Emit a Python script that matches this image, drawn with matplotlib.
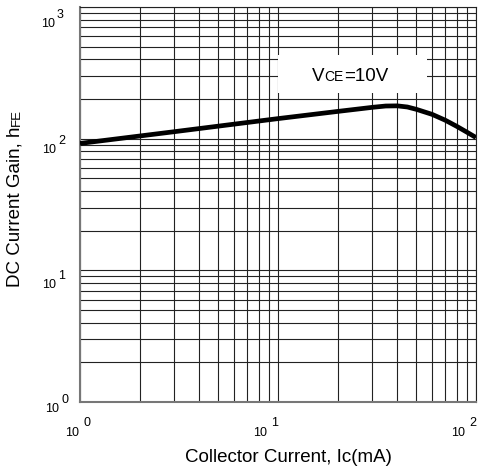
import matplotlib
matplotlib.use('Agg')
import matplotlib.pyplot as plt
from matplotlib.transforms import offset_copy, IdentityTransform
from matplotlib.patches import Rectangle

plt.rcParams['font.family'] = ['Liberation Sans', 'DejaVu Sans']

# ---- data ----
ic_ma = [1, 3, 10, 20, 30, 35, 40, 45, 50, 60, 70, 80, 90, 100]
hfe = [92, 113, 142, 161, 173, 177, 177.5, 174, 167, 153, 138, 124, 112, 102]

x_ticks = [1, 10, 100]
x_exps = ['0', '1', '2']
y_ticks = [1, 10, 100, 1000]
y_exps = ['0', '1', '2', '3']

xlabel_main = 'Collector Current, Ic(mA)'
ylabel_parts = ['DC Current Gain, h', 'FE']
note_parts = ['V', 'CE', '=10V']

W, H = 478, 474
fig = plt.figure(figsize=(W / 100, H / 100), dpi=100)
ax = fig.add_axes([80 / W, 72 / H, 396 / W, 395 / H])
ax.set_xscale('log')
ax.set_yscale('log')
ax.set_xlim(1, 100)
ax.set_ylim(1, 1000)
ax.grid(True, which='both', color='#222222', lw=0.8)
ax.tick_params(which='both', length=0, labelbottom=False, labelleft=False)
for s in ['left', 'bottom']:
    ax.spines[s].set_color('#777777')
    ax.spines[s].set_linewidth(1.5)
for s in ['top', 'right']:
    ax.spines[s].set_color('#222222')
    ax.spines[s].set_linewidth(0.8)

# white note box
ax.add_patch(Rectangle((10, 222), 46.5, 210, facecolor='white', edgecolor='none', zorder=3))

ax.plot(ic_ma, hfe, color='black', lw=3.4, solid_joinstyle='round',
        solid_capstyle='butt', zorder=5)

renderer = fig.canvas.get_renderer()
ident = IdentityTransform()


def chain(x, y, pieces, rotation=0):
    """Place text pieces in display pixel coords (origin bottom-left), on a common baseline."""
    off = 0.0
    for s, size, rise, gap in pieces:
        off += gap
        if rotation == 0:
            tr = offset_copy(ident, fig=fig, x=off, y=rise, units='dots')
        else:
            tr = offset_copy(ident, fig=fig, x=-rise, y=off, units='dots')
        t = fig.text(x, y, s, fontsize=size, ha='left', va='baseline',
                     rotation=rotation, rotation_mode='anchor', transform=tr)
        bb = t.get_window_extent(renderer)
        off += bb.width if rotation == 0 else bb.height


# x tick labels
x_dx = [-15, -25, -25]
for v, e, dx in zip(x_ticks, x_exps, x_dx):
    px, _ = ax.transData.transform((v, 1))
    chain(px + dx, H - 436, [('10', 9, 0, 0), (e, 9, 10, 4)])

# y tick labels
y_dy = [10, 18, 14, 20]
y_x = [45, 42, 42, 41]
for v, e, dy, lx in zip(y_ticks, y_exps, y_dy, y_x):
    _, py = ax.transData.transform((1, v))
    chain(lx, py - dy, [('10', 9, 0, 0), (e, 9, 9, 2)])

# axis labels
chain(185, H - 462, [(xlabel_main, 13.5, 0, 0)])
chain(20, H - 287, [(ylabel_parts[0], 13.5, 0, 0), (ylabel_parts[1], 9.5, 0, 1)], rotation=90)

# note
chain(312, H - 81, [(note_parts[0], 13.5, 0, 0), (note_parts[1], 10, 0, 0), (note_parts[2], 13.5, 0, 0)])

fig.savefig('out.png', dpi=100)
